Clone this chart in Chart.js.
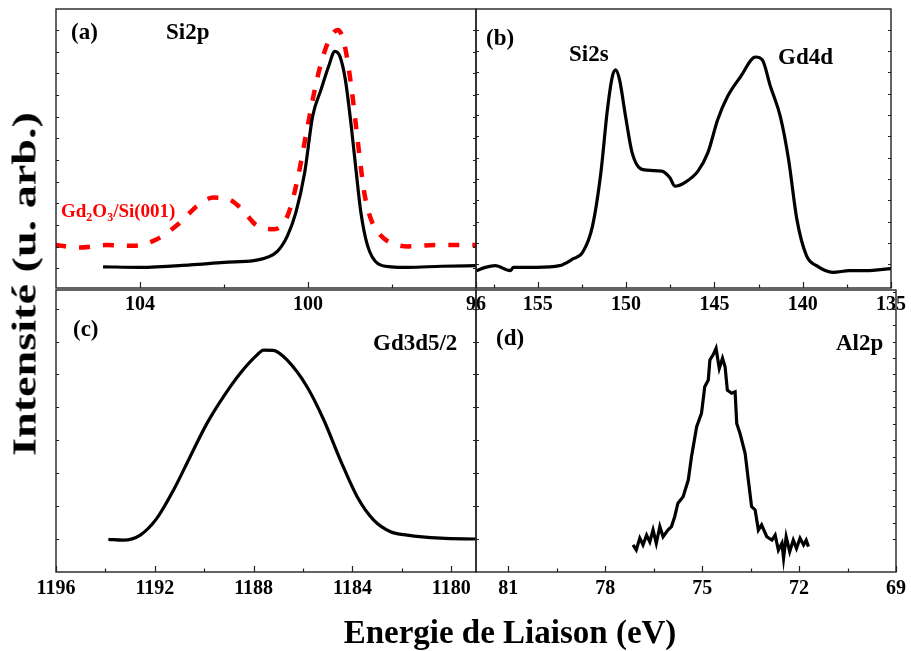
<!DOCTYPE html>
<html>
<head>
<meta charset="utf-8">
<script src="https://cdn.jsdelivr.net/npm/chart.js@4.4.0/dist/chart.umd.min.js"></script>
<style>
  body { margin: 0; background: #fff; }
  #wrap { position: relative; width: 911px; height: 651px; overflow: hidden; }
  #wrap canvas { position: absolute; left: 0; top: 0; }
  .lbl { position: absolute; font-family: "Liberation Serif", "Times New Roman", serif; font-weight: bold;
         font-size: 23px; line-height: 1; white-space: nowrap; color: #000; }
  .red { color: #f00; font-size: 19px; }
  .red sub { font-size: 12px; vertical-align: -4px; line-height: 0; }
</style>
</head>
<body>
<div id="wrap">
  <canvas id="pa" width="911" height="651"></canvas>
  <canvas id="pb" width="911" height="651"></canvas>
  <canvas id="pc" width="911" height="651"></canvas>
  <canvas id="pd" width="911" height="651"></canvas>

  <div class="lbl" style="left:71px;top:20px">(a)</div>
  <div class="lbl" style="left:166px;top:20px">Si2p</div>
  <div class="lbl red" style="left:61px;top:201px">Gd<sub>2</sub>O<sub>3</sub>/Si(001)</div>
  <div class="lbl" style="left:486px;top:26px">(b)</div>
  <div class="lbl" style="left:569px;top:42px">Si2s</div>
  <div class="lbl" style="left:778px;top:45px">Gd4d</div>
  <div class="lbl" style="left:73px;top:317px">(c)</div>
  <div class="lbl" style="left:373px;top:331px">Gd3d5/2</div>
  <div class="lbl" style="left:496px;top:326px">(d)</div>
  <div class="lbl" style="left:836px;top:331px">Al2p</div>

  <div class="lbl" style="left:510px;top:632px;font-size:33px;transform:translate(-50%,-50%)">Energie de Liaison (eV)</div>
  <div class="lbl" style="left:25px;top:284px;font-size:33px;transform:translate(-50%,-50%) rotate(-90deg) scaleX(1.4)">Intensité (u. arb.)</div>
</div>

<script>
// (a) Si2p
const siEnergyBare = [104.88, 104.0, 102.8, 102.0, 101.29, 100.97, 100.73, 100.49, 100.29, 100.08, 99.89, 99.69, 99.51, 99.36, 99.24, 99.11, 98.97, 98.85, 98.74, 98.58, 98.34, 98.02, 97.62, 96.82, 95.96];
const siIntBare    = [7.6, 7.4, 8.3, 9.2, 9.8, 11.0, 13.1, 18.7, 27.0, 41.3, 61.5, 71.1, 79.4, 84.8, 83.0, 74.6, 58.0, 41.3, 27.0, 15.1, 8.8, 7.6, 7.4, 7.8, 8.0];
const siEnergyOx = [106.02, 105.44, 104.8, 104.16, 103.6, 103.04, 102.64, 102.25, 101.89, 101.61, 101.21, 100.81, 100.49, 100.25, 100.01, 99.77, 99.53, 99.29, 99.14, 98.97, 98.82, 98.66, 98.5, 98.26, 97.94, 97.62, 96.98, 96.26, 95.9];
const siIntOx    = [15.4, 14.5, 15.4, 15.1, 17.5, 23.5, 29.4, 32.4, 31.8, 28.8, 22.3, 21.1, 25.8, 38.9, 58.0, 75.8, 87.8, 92.5, 87.8, 72.3, 53.2, 34.2, 24.6, 18.7, 15.7, 14.9, 15.4, 15.4, 15.4];
const ticksA = [104, 100, 96];
const minorA = [102, 98];

// (b) Si2s + Gd4d
const gd4dEnergy = [158.47, 157.97, 157.41, 156.56, 156.38, 155.07, 153.77, 153.02, 152.46, 151.9, 151.43, 151.06, 150.78, 150.59, 150.37, 150.03, 149.66, 149.1, 147.99, 147.52, 147.24, 146.68, 145.93, 145.37, 144.81, 144.25, 143.51, 142.67, 142.29, 141.83, 141.27, 140.8, 140.33, 139.78, 139.22, 138.28, 137.35, 136.42, 134.96];
const gd4dInt    = [6.2, 7.4, 8.0, 6.2, 7.4, 7.4, 8.0, 10.4, 12.8, 22.3, 41.3, 63.9, 75.8, 78.2, 74.6, 61.5, 48.5, 42.5, 41.9, 39.5, 36.5, 37.8, 41.9, 48.5, 60.4, 68.7, 75.8, 82.8, 81.8, 72.3, 61.5, 46.1, 24.6, 11.5, 8.0, 5.6, 6.2, 6.2, 7.0];
const ticksB = [155, 150, 145, 140, 135];
const minorB = [157.5, 152.5, 147.5, 142.5, 137.5];

// (c) Gd3d5/2
const gd3dEnergy = [1193.88, 1193.27, 1192.59, 1191.92, 1191.24, 1190.57, 1189.89, 1189.22, 1188.54, 1187.86, 1187.6, 1187.2, 1186.65, 1185.84, 1185.16, 1184.49, 1183.81, 1183.14, 1182.46, 1181.78, 1180.43, 1179.0];
const gd3dInt    = [11.6, 11.3, 13.1, 19.0, 29.1, 40.9, 52.7, 62.2, 70.5, 77.0, 78.7, 78.6, 75.2, 65.7, 53.9, 39.7, 26.7, 18.4, 14.3, 13.1, 12.0, 11.7];
const ticksC = [1196, 1192, 1188, 1184, 1180];
const minorC = [1194, 1190, 1186, 1182];

// (d) Al2p
const al2pEnergy = [77.14, 77.04, 76.93, 76.83, 76.72, 76.62, 76.52, 76.42, 76.31, 76.21, 76.06, 75.95, 75.85, 75.75, 75.59, 75.43, 75.33, 75.17, 75.02, 74.92, 74.81, 74.76, 74.66, 74.57, 74.47, 74.37, 74.29, 74.22, 74.09, 73.98, 73.93, 73.83, 73.67, 73.57, 73.47, 73.36, 73.26, 73.16, 73.0, 72.84, 72.74, 72.64, 72.53, 72.48, 72.4, 72.29, 72.18, 72.08, 71.97, 71.86, 71.78, 71.71];
const al2pInt    = [9.6, 7.8, 12.0, 9.6, 13.1, 10.7, 14.9, 10.2, 16.1, 12.5, 14.9, 16.1, 19.6, 24.4, 26.7, 32.6, 40.9, 51.5, 56.3, 65.7, 68.1, 75.2, 77.0, 79.3, 72.2, 75.8, 72.8, 64.5, 63.4, 63.9, 52.7, 49.2, 42.1, 32.6, 23.2, 22.0, 14.9, 16.7, 12.5, 11.3, 13.1, 7.8, 10.2, 4.9, 12.5, 7.2, 11.3, 8.4, 12.0, 9.6, 11.3, 9.0];
const ticksD = [81, 78, 75, 72, 69];
const minorD = [79.5, 76.5, 73.5, 70.5];

const pts = (xs, ys) => xs.map((x, i) => ({ x: x, y: ys[i] }));

const framePlugin = {
  id: 'frame',
  afterDraw(chart, args, opts) {
    const ctx = chart.ctx, a = chart.chartArea, x = chart.scales.x, y = chart.scales.y;
    ctx.save();
    ctx.strokeStyle = '#222';
    ctx.lineWidth = 1.4;
    ctx.strokeRect(a.left, a.top, a.right - a.left, a.bottom - a.top);
    ctx.lineWidth = 1.2;
    ctx.beginPath();
    opts.major.forEach(v => {
      const px = Math.round(x.getPixelForValue(v)) + 0.5;
      ctx.moveTo(px, a.bottom); ctx.lineTo(px, a.bottom - 6);
    });
    opts.minor.forEach(v => {
      const px = Math.round(x.getPixelForValue(v)) + 0.5;
      ctx.moveTo(px, a.bottom); ctx.lineTo(px, a.bottom - 3.5);
    });
    for (let v = opts.yStart; v < 100; v += opts.yStep) {
      const py = Math.round(y.getPixelForValue(v)) + 0.5;
      ctx.moveTo(a.left, py); ctx.lineTo(a.left + 3, py);
    }
    const rs = opts.yStepRight || opts.yStep;
    for (let v = opts.yStart; v < 100; v += rs) {
      const py = Math.round(y.getPixelForValue(v)) + 0.5;
      ctx.moveTo(a.right, py); ctx.lineTo(a.right - 3, py);
    }
    ctx.stroke();
    ctx.restore();
  }
};

function makePanel(id, box, xMin, xMax, major, minor, yTicks, datasets) {
  new Chart(document.getElementById(id), {
    type: 'line',
    data: { datasets: datasets },
    plugins: [framePlugin],
    options: {
      responsive: false,
      animation: false,
      devicePixelRatio: 1,
      layout: { padding: { left: box.left, right: 911 - box.right, top: box.top, bottom: 651 - box.bottom - 40 } },
      plugins: { legend: { display: false }, tooltip: { enabled: false }, frame: Object.assign({ major: major, minor: minor }, yTicks) },
      elements: { point: { radius: 0 } },
      scales: {
        x: {
          type: 'linear', reverse: true, min: xMin, max: xMax,
          afterBuildTicks: s => { s.ticks = major.map(v => ({ value: v })); },
          afterFit: s => { s.height = 40; },
          grid: { display: false, drawTicks: false },
          border: { display: false },
          ticks: { padding: 5, color: '#000', maxRotation: 0, autoSkip: false,
                   callback: v => String(v),
                   font: { family: 'Liberation Serif', weight: 'bold', size: 20 } }
        },
        y: { display: false, min: 0, max: 100 }
      }
    }
  });
}

const black = (data, smooth) => ({
  data: data, borderColor: '#000', borderWidth: 3.2, fill: false,
  cubicInterpolationMode: smooth ? 'monotone' : 'default', tension: 0
});

makePanel('pa', { left: 56, right: 476, top: 9, bottom: 288 }, 96, 106, ticksA, minorA,
  { yStart: 7, yStep: 7.77 },
  [
    black(pts(siEnergyBare, siIntBare), true),
    { data: pts(siEnergyOx, siIntOx), borderColor: '#f00', borderWidth: 4.5, borderDash: [11, 13],
      fill: false, cubicInterpolationMode: 'monotone' }
  ]);

makePanel('pb', { left: 476, right: 896, top: 9, bottom: 288 }, 135, 158.5, ticksB, minorB,
  { yStart: 8.5, yStep: 7.65 },
  [black(pts(gd4dEnergy, gd4dInt), true)]);

makePanel('pc', { left: 56, right: 476, top: 290, bottom: 572 }, 1179, 1196, ticksC, minorC,
  { yStart: 11.7, yStep: 11.67 },
  [black(pts(gd3dEnergy, gd3dInt), true)]);

makePanel('pd', { left: 476, right: 897, top: 290, bottom: 572 }, 69, 82, ticksD, minorD,
  { yStart: 11.7, yStep: 11.67, yStepRight: 5.835 },
  [black(pts(al2pEnergy, al2pInt), false)]);
</script>
</body>
</html>
